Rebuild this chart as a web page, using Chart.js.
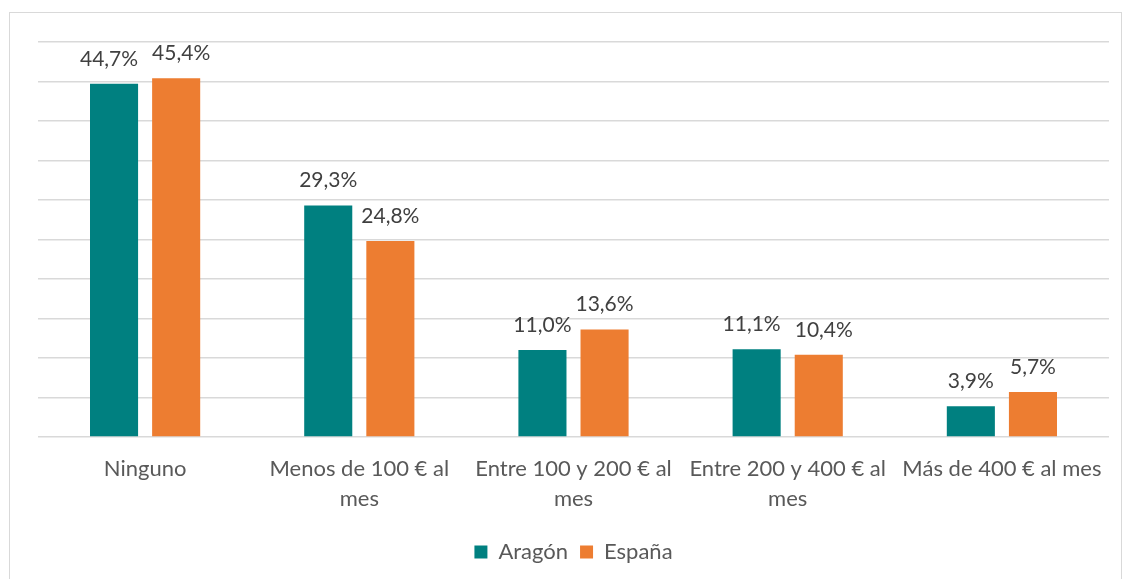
<!DOCTYPE html>
<html>
<head>
<meta charset="utf-8">
<script src="https://cdn.jsdelivr.net/npm/chart.js@4/dist/chart.umd.min.js"></script>
<style>
  html, body { margin: 0; padding: 0; background: #fff; overflow: hidden; }
  #frame {
    position: absolute; left: 9px; top: 12px;
    width: 1111px; height: 620px;
    border: 1px solid #d9d9d9;
  }
  #wrap { position: relative; width: 1111px; height: 566px; }
</style>
</head>
<body>
<div id="frame"><div id="wrap"><canvas id="gastoChart"></canvas></div></div>
<script>
var categorias = [
    'Ninguno',
    ['Menos de 100 € al', 'mes'],
    ['Entre 100 y 200 € al', 'mes'],
    ['Entre 200 y 400 € al', 'mes'],
    'Más de 400 € al mes'
];
var aragon = [44.7, 29.3, 11.0, 11.1, 3.9];
var espana = [45.4, 24.8, 13.6, 10.4, 5.7];

var FONT = 'Lato, "Open Sans", sans-serif';

// etiquetas de valor encima de cada barra; si las dos de un grupo
// quedan casi a la misma altura y se pisan, se separan hacia fuera
var etiquetasValor = {
    id: 'etiquetasValor',
    afterDatasetsDraw: function(chart) {
        var ctx = chart.ctx;
        ctx.save();
        ctx.font = '21px ' + FONT;
        ctx.fillStyle = '#404040';
        ctx.textAlign = 'center';
        ctx.textBaseline = 'middle';
        var m0 = chart.getDatasetMeta(0).data;
        var m1 = chart.getDatasetMeta(1).data;
        var ds = chart.data.datasets;
        m0.forEach(function(b0, j) {
            var b1 = m1[j];
            var t0 = ds[0].data[j].toFixed(1).replace('.', ',') + '%';
            var t1 = ds[1].data[j].toFixed(1).replace('.', ',') + '%';
            var x0 = b0.x, x1 = b1.x;
            if (Math.abs(b0.y - b1.y) < 12) {
                var need = (ctx.measureText(t0).width + ctx.measureText(t1).width) / 2 + 14;
                var falta = need - (x1 - x0);
                if (falta > 0) { x0 -= falta / 2; x1 += falta / 2; }
            }
            ctx.fillText(t0, x0, b0.y - 25);
            ctx.fillText(t1, x1, b1.y - 25);
        });
        ctx.restore();
    }
};

new Chart(document.getElementById('gastoChart'), {
    type: 'bar',
    data: {
        labels: categorias,
        datasets: [{
            label: 'Aragón',
            data: aragon,
            backgroundColor: '#008080'
        }, {
            label: 'España',
            data: espana,
            backgroundColor: '#ED7D31'
        }]
    },
    options: {
        responsive: true,
        maintainAspectRatio: false,
        animation: false,
        categoryPercentage: 0.58,
        barPercentage: 0.774,
        layout: { padding: { left: 28, right: 12, top: 29, bottom: 6 } },
        plugins: {
            tooltip: { enabled: false },
            legend: {
                position: 'bottom',
                labels: {
                    font: { family: FONT, size: 22 },
                    color: '#595959',
                    boxWidth: 13,
                    boxHeight: 13,
                    padding: 12
                }
            }
        },
        scales: {
            x: {
                grid: { display: false },
                border: { display: false },
                ticks: {
                    font: { family: FONT, size: 22, lineHeight: 1.36 },
                    color: '#595959',
                    padding: 9,
                    maxRotation: 0,
                    autoSkip: false
                },
                afterFit: function(scale) { scale.height = 92; }
            },
            y: {
                min: 0,
                max: 50,
                ticks: { display: false, stepSize: 5 },
                grid: { color: '#d9d9d9', lineWidth: 1.5, drawTicks: false },
                border: { display: false },
                afterFit: function(scale) { scale.width = 0; }
            }
        }
    },
    plugins: [etiquetasValor]
});
</script>
</body>
</html>
